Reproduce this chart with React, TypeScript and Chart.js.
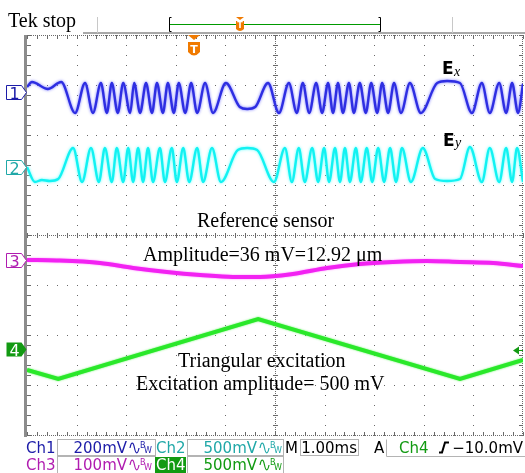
import React, { useEffect, useRef } from "react";
import { Chart, registerables } from "chart.js";

Chart.register(...registerables);

// ---- Data (time in ms across 10 divisions of 1.00 ms; values in screen divisions, 0 = centre line) ----
const EX_TIME = [0.00, 0.10, 0.42, 0.69, 0.97, 1.17, 1.33, 1.49, 1.61, 1.71, 1.83, 1.94, 2.08, 2.16, 2.28, 2.40, 2.52, 2.62, 2.74, 2.84, 2.96, 3.06, 3.19, 3.31, 3.43, 3.59, 3.75, 4.01, 4.29, 4.44, 4.60, 4.86, 5.08, 5.28, 5.44, 5.56, 5.69, 5.83, 5.95, 6.07, 6.17, 6.27, 6.37, 6.49, 6.59, 6.71, 6.83, 6.94, 7.06, 7.16, 7.28, 7.40, 7.54, 7.72, 7.94, 8.27, 8.47, 8.73, 8.97, 9.17, 9.33, 9.52, 9.66, 9.78, 9.90, 10.00];
const EX_DIV = [2.96, 3.06, 2.92, 3.06, 2.44, 3.04, 2.44, 3.04, 2.44, 3.04, 2.44, 3.04, 2.44, 3.04, 2.44, 3.04, 2.44, 3.04, 2.44, 3.04, 2.44, 3.04, 2.44, 3.04, 2.44, 3.04, 2.44, 3.04, 2.56, 2.52, 2.56, 3.04, 2.44, 3.04, 2.44, 3.04, 2.44, 3.04, 2.44, 3.04, 2.44, 3.04, 2.44, 3.04, 2.44, 3.04, 2.44, 3.04, 2.44, 3.04, 2.44, 3.04, 2.44, 3.04, 2.44, 3.04, 3.08, 3.04, 2.44, 3.04, 2.44, 3.04, 2.44, 3.04, 2.44, 3.02];

const EY_TIME = [0.00, 0.16, 0.30, 0.46, 0.63, 0.93, 1.11, 1.29, 1.45, 1.57, 1.71, 1.81, 1.94, 2.04, 2.14, 2.24, 2.34, 2.44, 2.54, 2.68, 2.78, 2.92, 3.02, 3.15, 3.27, 3.43, 3.55, 3.73, 3.91, 4.25, 4.44, 4.64, 4.98, 5.20, 5.34, 5.48, 5.60, 5.75, 5.87, 5.99, 6.09, 6.21, 6.31, 6.41, 6.51, 6.63, 6.73, 6.85, 6.96, 7.08, 7.20, 7.32, 7.44, 7.56, 7.74, 7.98, 8.23, 8.47, 8.73, 8.93, 9.17, 9.33, 9.52, 9.66, 9.78, 9.88, 10.00];
const EY_DIV = [1.36, 1.06, 1.10, 1.08, 1.12, 1.74, 1.06, 1.74, 1.06, 1.74, 1.06, 1.74, 1.06, 1.74, 1.06, 1.74, 1.06, 1.74, 1.06, 1.74, 1.06, 1.74, 1.06, 1.74, 1.06, 1.74, 1.06, 1.74, 1.06, 1.70, 1.74, 1.70, 1.06, 1.74, 1.06, 1.74, 1.06, 1.74, 1.06, 1.74, 1.06, 1.74, 1.06, 1.74, 1.06, 1.74, 1.06, 1.74, 1.06, 1.74, 1.06, 1.74, 1.06, 1.74, 1.06, 1.74, 1.12, 1.08, 1.12, 1.76, 1.06, 1.74, 1.06, 1.74, 1.06, 1.74, 1.06];

const REF_TIME = [0.00, 0.60, 1.47, 2.14, 2.82, 3.49, 4.15, 4.70, 5.36, 6.05, 6.71, 7.38, 8.06, 8.73, 9.40, 10.00];
const REF_DIV = [-0.50, -0.51, -0.56, -0.66, -0.74, -0.80, -0.84, -0.84, -0.78, -0.66, -0.58, -0.54, -0.52, -0.54, -0.56, -0.62];

const EXC_TIME = [0.00, 0.63, 4.66, 8.73, 10.00];
const EXC_DIV = [-2.70, -2.88, -1.68, -2.88, -2.50];

// channel ground markers (divisions) and trigger
const CH_LABELS = ["1", "2", "3", "4"];
const CH_OFFSETS = [2.86, 1.36, -0.50, -2.28];
const TRIGGER_TIME = 3.37;
const TRIGGER_LEVEL = -2.30;

const ANNOTATIONS = [
  "Reference sensor",
  "Amplitude=36 mV=12.92 \u03bcm",
  "Triangular excitation",
  "Excitation amplitude= 500 mV",
];

const pts = (t: number[], v: number[]) => t.map((x, i) => ({ x, y: v[i] }));

const BLUE = "#2e2ee2";
const CYAN = "#12f2f2";
const MAGENTA = "#f222f2";
const GREEN = "#2ae82a";
const ORANGE = "#f07a00";

const graticule = {
  id: "graticule",
  beforeDatasetsDraw(chart: any) {
    const { ctx, chartArea, scales } = chart;
    const { left, right, top, bottom } = chartArea;
    const xs = scales.x;
    const ys = scales.y;
    ctx.save();
    ctx.fillStyle = "#6a6a6a";
    const L = Math.round(left);
    const R = Math.round(right) - 1;
    const T = Math.round(top);
    const B = Math.round(bottom);
    for (let i = 1; i < 10; i++) {
      if (i === 5) continue;
      const px = Math.round(xs.getPixelForValue(i));
      for (let k = 0; k <= 40; k++) {
        const py = Math.round(ys.getPixelForValue(-4 + k * 0.2));
        ctx.fillRect(px, py, 1, 1);
      }
    }
    for (let j = -3; j <= 3; j++) {
      if (j === 0) continue;
      const py = Math.round(ys.getPixelForValue(j));
      for (let k = 0; k <= 50; k++) {
        const px = Math.round(xs.getPixelForValue(k * 0.2));
        ctx.fillRect(px, py, 1, 1);
      }
    }
    const cx = Math.round(xs.getPixelForValue(5));
    const cy = Math.round(ys.getPixelForValue(0));
    for (let py = T; py <= B; py += 2) ctx.fillRect(cx, py, 1, 1);
    for (let px = L; px <= R; px += 2) ctx.fillRect(px, cy, 1, 1);
    for (let k = 0; k <= 50; k++) {
      const px = Math.round(xs.getPixelForValue(k * 0.2));
      ctx.fillRect(px, cy - 2, 1, 5);
      ctx.fillRect(px, T, 1, 4);
      ctx.fillRect(px, B - 3, 1, 4);
    }
    for (let k = 0; k <= 40; k++) {
      const py = Math.round(ys.getPixelForValue(-4 + k * 0.2));
      ctx.fillRect(cx - 2, py, 5, 1);
      ctx.fillRect(L, py, 4, 1);
      ctx.fillRect(R - 3, py, 4, 1);
    }
    for (let px = L; px <= R; px += 2) {
      ctx.fillRect(px, T, 1, 1);
      ctx.fillRect(px, B, 1, 1);
    }
    for (let py = T; py <= B; py += 2) ctx.fillRect(R, py, 1, 1);
    ctx.fillStyle = "#8c8c8c";
    ctx.fillRect(L - 3, T, 3, B - T + 2);
    ctx.restore();
  },
};

const glow = {
  id: "glow",
  beforeDatasetDraw(chart: any, args: any) {
    const ds: any = chart.data.datasets[args.index];
    const ctx = chart.ctx;
    ctx.save();
    ctx.shadowColor = ds.glowColor || "transparent";
    ctx.shadowBlur = ds.glowBlur || 0;
  },
  afterDatasetDraw(chart: any) {
    chart.ctx.restore();
  },
};

function drawBW(ctx: CanvasRenderingContext2D, x: number, y: number, color: string) {
  ctx.strokeStyle = color;
  ctx.lineWidth = 1.2;
  ctx.beginPath();
  ctx.moveTo(x, y - 5);
  ctx.bezierCurveTo(x + 1.3, y - 11.5, x + 3.2, y - 11.5, x + 4.5, y - 5);
  ctx.bezierCurveTo(x + 5.8, y + 1.5, x + 7.7, y + 1.5, x + 9, y - 5);
  ctx.stroke();
  ctx.fillStyle = color;
  ctx.textAlign = "left";
  ctx.font = "8px 'DejaVu Sans'";
  ctx.fillText("B", x + 10, y - 5);
  ctx.fillText("W", x + 14, y);
}

const overlay = {
  id: "overlay",
  afterDraw(chart: any) {
    const { ctx, chartArea, scales } = chart;
    const xs = scales.x;
    const ys = scales.y;
    const { left, top } = chartArea;
    ctx.save();
    ctx.textBaseline = "alphabetic";

    // ---- top header ----
    ctx.fillStyle = "#000";
    ctx.font = "20px 'Liberation Serif'";
    ctx.textAlign = "left";
    ctx.fillText("Tek stop", 8, 27);
    ctx.fillStyle = "#a8a8a8";
    ctx.fillRect(83, top - 3, 525 - 83, 2);
    ctx.fillStyle = "#c8c8c8";
    ctx.fillRect(97, 17, 1, 16);
    ctx.fillRect(452, 17, 1, 16);
    ctx.strokeStyle = "#009a00";
    ctx.lineWidth = 1;
    ctx.beginPath();
    ctx.moveTo(170, 24.5);
    ctx.lineTo(381, 24.5);
    ctx.stroke();
    ctx.strokeStyle = "#000";
    ctx.beginPath();
    ctx.moveTo(171.5, 17.5); ctx.lineTo(169.5, 17.5); ctx.lineTo(169.5, 31.5); ctx.lineTo(171.5, 31.5);
    ctx.moveTo(378.5, 17.5); ctx.lineTo(380.5, 17.5); ctx.lineTo(380.5, 31.5); ctx.lineTo(378.5, 31.5);
    ctx.stroke();
    ctx.fillStyle = ORANGE;
    ctx.beginPath();
    ctx.moveTo(236, 17); ctx.lineTo(244, 17); ctx.lineTo(240, 20); ctx.closePath(); ctx.fill();
    ctx.beginPath();
    ctx.moveTo(236, 21); ctx.lineTo(244, 21); ctx.lineTo(244, 29); ctx.quadraticCurveTo(240, 33, 236, 29); ctx.closePath(); ctx.fill();
    ctx.fillStyle = "#fff";
    ctx.font = "bold 8px 'DejaVu Sans'";
    ctx.textAlign = "center";
    ctx.fillText("T", 240, 28);

    const tx = Math.round(xs.getPixelForValue(TRIGGER_TIME));
    ctx.fillStyle = ORANGE;
    ctx.beginPath();
    ctx.moveTo(tx - 6, top); ctx.lineTo(tx + 6, top); ctx.lineTo(tx, top + 5); ctx.closePath(); ctx.fill();
    ctx.beginPath();
    ctx.moveTo(tx - 6, top + 7); ctx.lineTo(tx + 6, top + 7); ctx.lineTo(tx + 6, top + 17);
    ctx.quadraticCurveTo(tx, top + 24, tx - 6, top + 17); ctx.closePath(); ctx.fill();
    ctx.fillStyle = "#fff";
    ctx.font = "bold 11px 'DejaVu Sans'";
    ctx.fillText("T", tx, top + 18);

    // ---- channel markers ----
    const chColors = ["#1c1ca8", "#20a8a8", "#b01cb0", "#129a12"];
    CH_LABELS.forEach((lab, i) => {
      const py = Math.round(ys.getPixelForValue(CH_OFFSETS[i])) + 0.5;
      const x0 = 6.5, x1 = 21.5, x2 = left - 0.5, h = 7;
      ctx.beginPath();
      ctx.moveTo(x0, py - h); ctx.lineTo(x1, py - h); ctx.lineTo(x2, py); ctx.lineTo(x1, py + h); ctx.lineTo(x0, py + h); ctx.closePath();
      if (i === 3) {
        ctx.fillStyle = chColors[i];
        ctx.fill();
        ctx.fillStyle = "#fff";
      } else {
        ctx.fillStyle = "#fff";
        ctx.fill();
        ctx.strokeStyle = chColors[i];
        ctx.lineWidth = 1;
        ctx.stroke();
        ctx.fillStyle = chColors[i];
      }
      ctx.font = "16px 'DejaVu Sans'";
      ctx.textAlign = "center";
      ctx.fillText(lab, 14.5, py + 6);
    });

    const ty = Math.round(ys.getPixelForValue(TRIGGER_LEVEL)) + 0.5;
    ctx.fillStyle = "#129a12";
    ctx.beginPath();
    ctx.moveTo(513, ty); ctx.lineTo(519, ty - 4); ctx.lineTo(519, ty + 4); ctx.closePath(); ctx.fill();
    ctx.fillRect(519, ty - 0.5, 4, 1);

    // ---- Ex / Ey labels ----
    ctx.textAlign = "left";
    ctx.fillStyle = "#000";
    ctx.font = "bold 17px 'DejaVu Sans'";
    ctx.fillText("E", 442, 74);
    ctx.fillText("E", 443, 146);
    ctx.font = "italic 14px 'Liberation Serif'";
    ctx.fillText("x", 454, 76);
    ctx.fillText("y", 455, 147);

    // ---- annotations ----
    ctx.font = "20px 'Liberation Serif'";
    ctx.fillStyle = "#000";
    ctx.textAlign = "left";
    ctx.fillText(ANNOTATIONS[0], 197, 227);
    ctx.fillText(ANNOTATIONS[1], 143, 261);
    ctx.fillText(ANNOTATIONS[2], 178, 367);
    ctx.fillText(ANNOTATIONS[3], 136, 390);

    // ---- status bar ----
    const r1 = 453, r2 = 470;
    ctx.strokeStyle = "#b4b4b4";
    ctx.lineWidth = 1;
    ctx.strokeRect(57.5, 439.5, 98, 16);
    ctx.strokeRect(187.5, 439.5, 96, 16);
    ctx.strokeRect(300.5, 439.5, 58, 16);
    ctx.beginPath();
    ctx.moveTo(386.5, 439.5); ctx.lineTo(386.5, 456.5); ctx.lineTo(525, 456.5);
    ctx.stroke();
    ctx.strokeRect(57.5, 456.5, 98, 18);
    ctx.strokeRect(187.5, 456.5, 96, 18);

    const F = "15px 'DejaVu Sans'";
    ctx.font = F;
    ctx.textAlign = "left";
    ctx.fillStyle = chColors[0];
    ctx.fillText("Ch1", 26, r1);
    ctx.textAlign = "right";
    ctx.fillText("200mV", 127, r1);
    drawBW(ctx, 130, r1, chColors[0]);
    ctx.font = F;
    ctx.textAlign = "left";
    ctx.fillStyle = chColors[1];
    ctx.fillText("Ch2", 156, r1);
    ctx.textAlign = "right";
    ctx.fillText("500mV", 257, r1);
    drawBW(ctx, 260, r1, chColors[1]);
    ctx.font = F;
    ctx.fillStyle = "#000";
    ctx.textAlign = "left";
    ctx.fillText("M", 285, r1);
    ctx.textAlign = "right";
    ctx.fillText("1.00ms", 357, r1);
    ctx.textAlign = "left";
    ctx.fillText("A", 374, r1);
    ctx.fillStyle = chColors[3];
    ctx.fillText("Ch4", 399, r1);
    ctx.fillStyle = "#000";
    ctx.textAlign = "right";
    ctx.fillText("\u221210.0mV", 523, r1);
    ctx.strokeStyle = "#000";
    ctx.lineWidth = 2;
    ctx.beginPath();
    ctx.moveTo(439, r1 - 0.5); ctx.lineTo(442, r1 - 0.5); ctx.lineTo(445, r1 - 10.5); ctx.lineTo(449, r1 - 10.5);
    ctx.stroke();

    ctx.font = F;
    ctx.textAlign = "left";
    ctx.fillStyle = chColors[2];
    ctx.fillText("Ch3", 26, r2);
    ctx.textAlign = "right";
    ctx.fillText("100mV", 127, r2);
    drawBW(ctx, 130, r2, chColors[2]);
    ctx.fillStyle = chColors[3];
    ctx.fillRect(155, 457, 31, 16);
    ctx.font = F;
    ctx.fillStyle = "#fff";
    ctx.textAlign = "left";
    ctx.fillText("Ch4", 156, r2);
    ctx.fillStyle = chColors[3];
    ctx.textAlign = "right";
    ctx.fillText("500mV", 257, r2);
    drawBW(ctx, 260, r2, chColors[3]);

    ctx.restore();
  },
};

export default function App() {
  const ref = useRef<HTMLCanvasElement | null>(null);
  useEffect(() => {
    if (!ref.current) return;
    const chart = new Chart(ref.current, {
      type: "line",
      data: {
        datasets: [
          {
            data: pts(EX_TIME, EX_DIV),
            borderColor: BLUE,
            borderWidth: 2.4,
            cubicInterpolationMode: "monotone",
            glowColor: "rgba(110,110,255,0.95)",
            glowBlur: 3,
          } as any,
          {
            data: pts(EY_TIME, EY_DIV),
            borderColor: CYAN,
            borderWidth: 2.4,
            cubicInterpolationMode: "monotone",
            glowColor: "rgba(90,255,255,0.95)",
            glowBlur: 3,
          } as any,
          {
            data: pts(REF_TIME, REF_DIV),
            borderColor: MAGENTA,
            borderWidth: 4,
            cubicInterpolationMode: "monotone",
            glowColor: "rgba(255,110,255,0.9)",
            glowBlur: 2,
          } as any,
          {
            data: pts(EXC_TIME, EXC_DIV),
            borderColor: GREEN,
            borderWidth: 4,
            tension: 0,
            glowColor: "rgba(80,240,80,0.9)",
            glowBlur: 2,
          } as any,
        ],
      },
      options: {
        animation: false,
        responsive: false,
        devicePixelRatio: 1,
        parsing: false as any,
        layout: { padding: { left: 27, top: 35, right: 2, bottom: 38 } },
        elements: { point: { radius: 0 } },
        scales: {
          x: { type: "linear", min: 0, max: 10, display: false },
          y: { type: "linear", min: -4, max: 4, display: false },
        },
        plugins: {
          legend: { display: false },
          tooltip: { enabled: false },
          title: { display: false },
        },
      },
      plugins: [graticule, glow, overlay],
    });
    return () => chart.destroy();
  }, []);
  return (
    <div style={{ position: "fixed", left: 0, top: 0, width: 525, height: 473, background: "#fff" }}>
      <canvas ref={ref} width={525} height={473} style={{ display: "block", width: 525, height: 473 }} />
    </div>
  );
}
